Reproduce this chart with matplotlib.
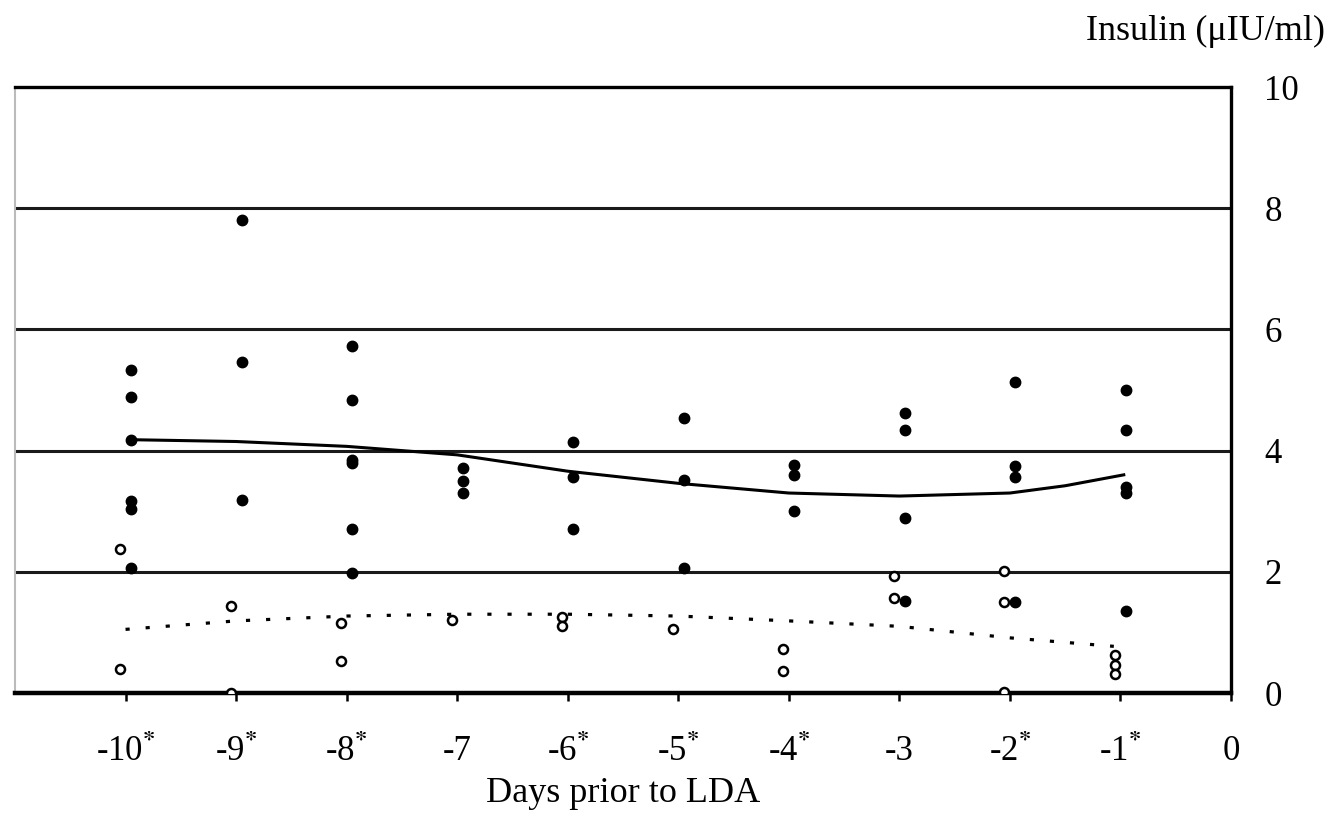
import numpy as np
import matplotlib as mpl
import matplotlib.pyplot as plt

# days and which ones are marked with an asterisk
days = [-10, -9, -8, -7, -6, -5, -4, -3, -2, -1, 0]
starred = [True, True, True, False, True, True, True, False, True, True, False]

# closed circles (one value list per day, -10 .. -1)
closed_vals = {
    -10: [5.33, 4.88, 4.18, 3.17, 3.03, 2.06],
    -9: [7.81, 5.47, 3.19],
    -8: [5.72, 4.84, 3.85, 3.80, 2.70, 1.98],
    -7: [3.72, 3.50, 3.30],
    -6: [4.15, 3.57, 2.70],
    -5: [4.54, 3.52, 2.06],
    -4: [3.77, 3.60, 3.00],
    -3: [4.62, 4.34, 2.89, 1.52],
    -2: [5.14, 3.75, 3.57, 1.50],
    -1: [5.00, 4.34, 3.40, 3.30, 1.35],
}
# open circles
open_vals = {
    -10: [2.38, 0.39],
    -9: [1.43, 0.00],
    -8: [1.16, 0.53],
    -7: [1.21],
    -6: [1.25, 1.10],
    -5: [1.05],
    -4: [0.72, 0.36],
    -3: [1.93, 1.57],
    -2: [2.01, 1.50, 0.02],
    -1: [0.62, 0.47, 0.32],
}

# trend curves
solid_x = [-9.95, -9, -8, -7, -6, -5, -4, -3, -2, -1.5, -0.97]
solid_y = [4.18, 4.15, 4.07, 3.93, 3.66, 3.46, 3.30, 3.25, 3.30, 3.42, 3.60]
dotted_x = [-10, -9, -8, -7, -6, -5, -4, -3, -2, -1.06]
dotted_y = [1.05, 1.19, 1.27, 1.30, 1.30, 1.27, 1.19, 1.10, 0.91, 0.77]

mpl.rcParams['font.family'] = 'Liberation Serif'
mpl.rcParams['mathtext.fontset'] = 'stix'

fig = plt.figure(figsize=(13.28, 8.17), dpi=100)
ax = fig.add_axes([15/1328, 1 - 693/817, (1231 - 15)/1328, (693 - 87)/817])
ax.set_xlim(-11, 0)
ax.set_ylim(0, 10)

# horizontal grid lines
for g in [2, 4, 6, 8]:
    ax.axhline(g, color='#1a1a1a', lw=2.2, zorder=1)

# points
for d, vals in closed_vals.items():
    ax.plot([d + 0.05] * len(vals), vals, 'o', color='black', ms=7.5, zorder=3)
for d, vals in open_vals.items():
    ax.plot([d - 0.05] * len(vals), vals, 'o', mfc='white', mec='black',
            mew=1.8, ms=6.5, zorder=3)

ax.plot(solid_x, solid_y, color='black', lw=2.2, zorder=2)
ax.plot(dotted_x, dotted_y, color='black', lw=2.3, linestyle=(0, (1.3, 5.0)), zorder=2)

# spines
ax.spines['top'].set_linewidth(2.4)
ax.spines['right'].set_linewidth(2.4)
ax.spines['bottom'].set_linewidth(3.2)
ax.spines['left'].set_color('#bbbbbb')
ax.spines['left'].set_linewidth(1.5)

# ticks
labels = [str(d) + (r'$^{\mathbf{*}}$' if s else '') for d, s in zip(days, starred)]
ax.set_xticks(days)
ax.set_xticklabels(labels)
ax.tick_params(axis='x', direction='out', length=6, width=1.8, pad=24, labelsize=25)

ax.yaxis.tick_right()
ax.set_yticks([0, 2, 4, 6, 8, 10])
ax.tick_params(axis='y', length=0, pad=24, labelsize=25)

ax.set_xlabel('Days prior to LDA', fontsize=26, labelpad=6)
fig.text(1325/1328, 1 - 31/817, 'Insulin (\u03bcIU/ml)', ha='right', va='center', fontsize=26)

plt.savefig('out.png', dpi=100)
